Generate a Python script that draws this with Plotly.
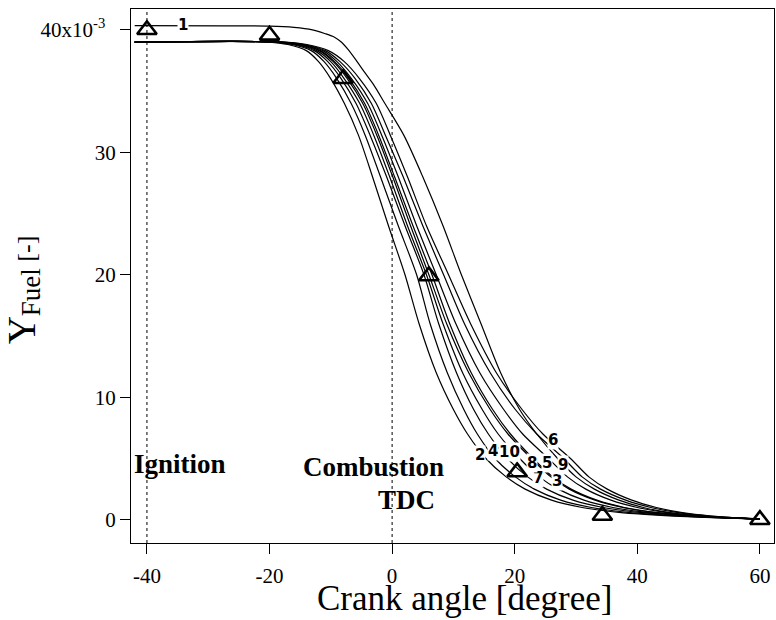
import plotly.graph_objects as go

# Fuel mass fraction levels (x10^-3) shared by cycles 2-10
fuel_levels = [39.0, 39.0, 38.8, 38.3, 37.4, 36.0, 34.0, 31.4, 28.0, 24.0, 20.0,
               16.0, 12.0, 9.0, 7.0, 5.0, 3.5, 2.5, 1.6, 1.0, 0.6, 0.3, 0.05]

# Crank angle [deg] at which each cycle reaches the levels above
cycle_angles = {
    "2": [-42, -20, -17, -14, -12, -10, -7.8, -5.5, -3.2, -0.6, 2.1, 4.4, 7.2, 10.0,
          12.3, 15.3, 18.6, 21.7, 26.0, 31.0, 37.0, 46.0, 60],
    "3": [-42, -18.4, -15.0, -11.7, -9.4, -7.0, -4.5, -2.2, 0.4, 3.4, 6.5, 9.4, 12.9,
          16.4, 19.3, 23.0, 26.2, 29.2, 33.4, 37.9, 43.0, 50.1, 60],
    "4": [-42, -19.5, -16.3, -13.2, -11.1, -9.0, -6.7, -4.4, -1.9, 1.0, 4.0, 6.2, 9.0,
          11.7, 13.9, 16.8, 20.1, 23.2, 27.5, 32.5, 38.5, 47.5, 60],
    "5": [-42, -18.1, -14.7, -11.3, -9.0, -6.6, -4.0, -1.7, 1.0, 4.0, 7.2, 10.4, 14.3,
          18.2, 21.3, 25.5, 28.6, 31.6, 35.7, 40.0, 44.6, 50.6, 60],
    "6": [-42, -17.4, -13.9, -10.4, -7.8, -5.3, -2.6, -0.3, 2.5, 5.6, 9.2, 12.8, 17.0,
          21.2, 24.6, 29.1, 32.1, 35.1, 39.1, 43.1, 47.1, 52.1, 60],
    "7": [-42, -18.8, -15.5, -12.3, -10.0, -7.8, -5.3, -3.0, -0.4, 2.5, 5.6, 8.3, 11.5,
          14.7, 17.3, 20.8, 24.0, 27.1, 31.3, 36.0, 41.5, 49.3, 60],
    "8": [-42, -18.5, -15.2, -11.9, -9.6, -7.3, -4.8, -2.5, 0.1, 3.0, 6.0, 8.9, 12.5,
          16.0, 18.9, 22.7, 25.9, 28.9, 33.1, 37.6, 42.6, 49.5, 60],
    "9": [-42, -17.8, -14.4, -10.9, -8.5, -6.0, -3.4, -1.1, 1.8, 5.0, 8.4, 11.8, 16.0,
          20.1, 23.6, 28.0, 31.0, 34.0, 38.1, 42.2, 46.4, 51.8, 60],
    "10": [-42, -19.0, -15.9, -12.7, -10.5, -8.3, -5.9, -3.6, -0.9, 2.1, 5.2, 7.6, 10.5,
           13.3, 15.7, 18.8, 22.1, 25.2, 29.5, 34.4, 40.3, 49.1, 60],
}

# Cycle 1 starts from a slightly richer charge
cycle1_fuel = [40.35, 40.3, 40.2, 40.0, 39.7, 39.4, 39.0, 38.4, 37.6, 36.6, 35.5, 34.0,
               31.4, 28.0, 24.0, 20.0, 16.0, 12.0, 9.0, 7.0, 5.0, 3.5, 2.5, 1.6, 1.0,
               0.6, 0.3, 0.08]
cycle1_angle = [-42, -20, -16, -13, -11, -9.4, -8.3, -7.2, -6.0, -4.6, -3.0, -1.2,
                1.9, 5.0, 8.3, 11.3, 14.5, 17.7, 20.8, 23.6, 27.0, 30.0, 33.0, 37.0,
                41.0, 45.0, 50.5, 60]

# Reference (triangle) points
ref_angle = [-40, -20, -8, 6, 20.4, 34.3, 60]
ref_fuel = [40.0, 39.55, 36.0, 19.9, 3.9, 0.35, 0.0]

# Cycle label positions
label_text = ["1", "2", "3", "4", "5", "6", "7", "8", "9", "10"]
label_x = [-34.1, 14.4, 26.9, 16.5, 25.3, 26.2, 23.8, 22.8, 27.9, 19.2]
label_y = [40.4, 5.3, 3.2, 5.6, 4.6, 6.5, 3.4, 4.6, 4.5, 5.5]

x_ticks = [-40, -20, 0, 20, 40, 60]
x_ticktext = ["-40", "-20", "0", "20", "40", "60"]
y_ticks = [0, 10, 20, 30, 40]
y_ticktext = ["0", "10", "20", "30", "40x10<sup>-3</sup>\u00a0\u00a0"]

serif = "Liberation Serif"
line_style = dict(color="black", width=1.2, shape="spline", smoothing=0.8)

fig = go.Figure()

fig.add_trace(go.Scatter(x=cycle1_angle, y=cycle1_fuel, mode="lines",
                         line=line_style, hoverinfo="skip"))
for name, ang in cycle_angles.items():
    fig.add_trace(go.Scatter(x=ang, y=fuel_levels, mode="lines", name=name,
                             line=line_style, hoverinfo="skip"))

fig.add_trace(go.Scatter(x=ref_angle, y=ref_fuel, mode="markers",
                         marker=dict(symbol="triangle-up-open", size=17,
                                     color="black", line=dict(width=2.6, color="black"))))

# Ignition and TDC markers
for xv in (-40, 0):
    fig.add_shape(type="line", xref="x", yref="paper", x0=xv, x1=xv, y0=0, y1=1,
                  line=dict(color="black", width=1, dash="3px,3px"))

for t, lx, ly in zip(label_text, label_x, label_y):
    fig.add_annotation(x=lx, y=ly, text="<b>" + t + "</b>", showarrow=False,
                       font=dict(family="DejaVu Sans", size=15, color="black"),
                       bgcolor="white", borderpad=0)

bold_font = dict(family=serif, size=27, color="black")
fig.add_annotation(x=-42.4, y=4.55, text="<b>Ignition</b>", showarrow=False,
                   xanchor="left", yanchor="middle", font=bold_font)
fig.add_annotation(x=-14.9, y=4.3, text="<b>Combustion</b>", showarrow=False,
                   xanchor="left", yanchor="middle", font=bold_font)
fig.add_annotation(x=-2.6, y=1.6, text="<b>TDC</b>", showarrow=False,
                   xanchor="left", yanchor="middle", font=bold_font)

# Axis titles
fig.add_annotation(xref="paper", yref="paper", x=0.519, y=-0.1442,
                   text="Crank angle [degree]", showarrow=False,
                   xanchor="center", yanchor="bottom",
                   font=dict(family=serif, size=35, color="black"))
fig.add_annotation(xref="paper", yref="paper", x=-0.168, y=0.475,
                   text=("<span style='font-size:39px'>Y</span>"
                         "<sub><span style='font-size:27px'>Fuel</span></sub> [-]"),
                   showarrow=False, textangle=-90,
                   xanchor="center", yanchor="middle",
                   font=dict(family=serif, size=26, color="black"))

axis_common = dict(showline=True, linecolor="black", linewidth=1, mirror=True,
                   ticks="outside", ticklen=10, tickwidth=1, tickcolor="black",
                   showgrid=False, zeroline=False,
                   tickfont=dict(family=serif, size=21, color="black"))

fig.update_xaxes(range=[-42.6, 62.3], tickvals=x_ticks, ticktext=x_ticktext,
                 ticklabelstandoff=4, **axis_common)
fig.update_yaxes(range=[-1.9, 41.7], tickvals=y_ticks, ticktext=y_ticktext, **axis_common)

fig.update_layout(width=776, height=620, showlegend=False,
                  margin=dict(l=131, r=2, t=9, b=77),
                  paper_bgcolor="white", plot_bgcolor="white")

fig.write_html("out.html")
